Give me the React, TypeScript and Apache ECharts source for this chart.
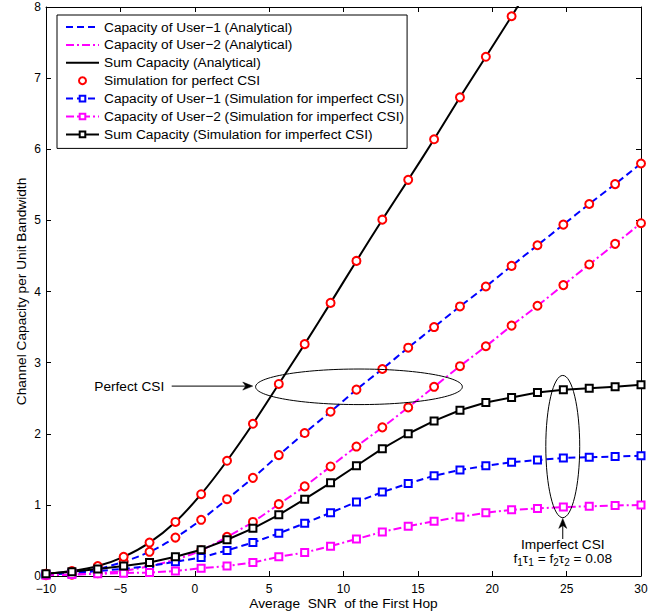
import React, { useEffect, useRef } from 'react';
import * as echarts from 'echarts';

// Average SNR of the first hop (dB)
const snr = [-10, -8.26, -6.52, -4.78, -3.04, -1.3, 0.43, 2.17, 3.91, 5.65, 7.39, 9.13, 10.87, 12.61, 14.35, 16.09, 17.83, 19.57, 21.3, 23.04, 24.78, 26.52, 28.26, 30];

// Perfect CSI (analytical curves, also where the simulation circles sit)
const user1Perfect = [0.02, 0.05, 0.1, 0.2, 0.34, 0.54, 0.79, 1.08, 1.38, 1.7, 2.01, 2.31, 2.62, 2.91, 3.21, 3.5, 3.79, 4.07, 4.36, 4.65, 4.94, 5.23, 5.51, 5.8];
const user2Perfect = [0.01, 0.02, 0.04, 0.07, 0.14, 0.23, 0.36, 0.55, 0.76, 1.01, 1.26, 1.54, 1.82, 2.09, 2.37, 2.66, 2.95, 3.23, 3.52, 3.8, 4.09, 4.38, 4.67, 4.96];
const sumPerfect = [0.03, 0.07, 0.14, 0.27, 0.47, 0.76, 1.15, 1.62, 2.14, 2.7, 3.26, 3.84, 4.43, 5.01, 5.57, 6.14, 6.73, 7.3, 7.87, 8.45, 9.03, 9.61, 10.18, 10.76];

// Imperfect CSI (simulation)
const user1Imperfect = [0.02, 0.04, 0.07, 0.1, 0.14, 0.2, 0.26, 0.36, 0.47, 0.6, 0.74, 0.89, 1.04, 1.18, 1.3, 1.41, 1.49, 1.55, 1.6, 1.63, 1.66, 1.67, 1.68, 1.69];
const user2Imperfect = [0.01, 0.02, 0.03, 0.04, 0.05, 0.07, 0.11, 0.14, 0.19, 0.27, 0.33, 0.42, 0.52, 0.62, 0.7, 0.77, 0.83, 0.89, 0.93, 0.95, 0.97, 0.98, 0.99, 1.0];
const sumImperfect = [0.03, 0.06, 0.1, 0.14, 0.19, 0.27, 0.37, 0.51, 0.67, 0.86, 1.08, 1.31, 1.55, 1.79, 2.0, 2.18, 2.33, 2.44, 2.51, 2.58, 2.62, 2.64, 2.66, 2.69];

const seriesNames = [
  'Capacity of User\u22121 (Analytical)',
  'Capacity of User\u22122 (Analytical)',
  'Sum Capacity (Analytical)',
  'Simulation for perfect CSI',
  'Capacity of User\u22121 (Simulation for imperfect CSI)',
  'Capacity of User\u22122 (Simulation for imperfect CSI)',
  'Sum Capacity (Simulation for imperfect CSI)',
];

const xLabel = 'Average  SNR  of the First Hop';
const yLabel = 'Channel Capacity per Unit Bandwidth';

// annotation anchors in data units
const perfectEllipse = { cx: 11.04, cy: 2.66, rx: 6.95, ry: 0.25 };
const perfectArrow = { x0: -1.55, x1: 3.9, y: 2.67 };
const perfectText = { x: -2.05, y: 2.67, text: 'Perfect CSI' };
const imperfectEllipse = { cx: 24.74, cy: 1.82, rx: 1.14, ry: 1.0 };
const imperfectArrow = { x: 24.74, y0: 0.52, y1: 0.81 };
const imperfectText = { x: 24.74, y1: 0.44, y2: 0.25, line1: 'Imperfect CSI', line2: 'f{s|1}\u03c4{s|1} = f{s|2}\u03c4{s|2} = 0.08' };

const FONT = '"Liberation Sans", Arial, Helvetica, sans-serif';
const TEXT_SIZE = 13.7;
const BLUE = '#0000ff';
const MAGENTA = '#ff00ff';
const BLACK = '#000000';
const RED = '#ff0000';

const pairs = (ys: number[]) => snr.map((x, i) => [x, ys[i]]);

export default function App() {
  const ref = useRef<HTMLDivElement>(null);
  useEffect(() => {
    const chart = echarts.init(ref.current!, null, { renderer: 'svg' });
    const minus = (v: number) => String(v).replace('-', '\u2212');
    const axisLine = { show: true, onZero: false, lineStyle: { color: BLACK, width: 1 } };
    const tick = { show: true, inside: true, length: 5, lineStyle: { color: BLACK, width: 1 } };
    const label = { color: BLACK, fontSize: 12, fontFamily: FONT, lineHeight: 10 };
    const dashed = [7, 4];
    const dashDot = [8, 3, 2, 3];

    chart.setOption({
      animation: false,
      backgroundColor: '#ffffff',
      grid: { left: 46, right: 27, top: 7, bottom: 37, containLabel: false, outerBoundsMode: 'none' },
      legend: {
        orient: 'vertical',
        left: 57,
        top: 15,
        padding: [5, 3, 7, 8],
        itemWidth: 33,
        itemHeight: 7,
        itemGap: 3.9,
        borderColor: BLACK,
        borderWidth: 1,
        backgroundColor: '#ffffff',
        textStyle: { color: BLACK, fontSize: TEXT_SIZE, fontFamily: FONT },
        data: seriesNames.map((name, i) => (i < 3 ? { name, itemStyle: { opacity: 0 } } : { name })),
        selectedMode: false,
      },
      xAxis: [
        {
          type: 'value', min: -10, max: 30, interval: 5, position: 'bottom',
          axisLine, axisTick: tick, splitLine: { show: false },
          axisLabel: { ...label, margin: 8, formatter: minus },
          name: xLabel, nameLocation: 'middle', nameGap: 20, nameMoveOverlap: false,
          nameTextStyle: { color: BLACK, fontSize: TEXT_SIZE, fontFamily: FONT },
        },
        {
          type: 'value', min: -10, max: 30, interval: 5, position: 'top',
          axisLine, axisTick: tick, splitLine: { show: false }, axisLabel: { show: false },
        },
      ],
      yAxis: [
        {
          type: 'value', min: 0, max: 8, interval: 1, position: 'left',
          axisLine, axisTick: tick, splitLine: { show: false },
          axisLabel: { ...label, margin: 5, formatter: minus },
          name: yLabel, nameLocation: 'middle', nameGap: 18, nameRotate: 90, nameMoveOverlap: false,
          nameTextStyle: { color: BLACK, fontSize: TEXT_SIZE, fontFamily: FONT },
        },
        {
          type: 'value', min: 0, max: 8, interval: 1, position: 'right',
          axisLine, axisTick: tick, splitLine: { show: false }, axisLabel: { show: false },
        },
      ],
      series: [
        {
          name: seriesNames[0], type: 'line', data: pairs(user1Perfect), smooth: 0.3,
          symbol: 'none', lineStyle: { color: BLUE, width: 2, type: dashed }, itemStyle: { color: BLUE }, z: 2,
        },
        {
          name: seriesNames[1], type: 'line', data: pairs(user2Perfect), smooth: 0.3,
          symbol: 'none', lineStyle: { color: MAGENTA, width: 2, type: dashDot }, itemStyle: { color: MAGENTA }, z: 2,
        },
        {
          name: seriesNames[2], type: 'line', data: pairs(sumPerfect), smooth: 0.3,
          symbol: 'none', lineStyle: { color: BLACK, width: 2, type: 'solid' }, itemStyle: { color: BLACK }, z: 2,
        },
        {
          name: seriesNames[3], type: 'scatter',
          data: [...pairs(user1Perfect), ...pairs(user2Perfect), ...pairs(sumPerfect)],
          symbol: 'emptyCircle', symbolSize: 8,
          itemStyle: { color: RED, borderColor: RED, borderWidth: 2, opacity: 1 }, z: 3,
        },
        {
          name: seriesNames[4], type: 'line', data: pairs(user1Imperfect),
          symbol: 'emptyRect', symbolSize: 7, showAllSymbol: true,
          lineStyle: { color: BLUE, width: 2, type: dashed }, itemStyle: { color: BLUE, borderColor: BLUE, borderWidth: 1.5 }, z: 4,
        },
        {
          name: seriesNames[5], type: 'line', data: pairs(user2Imperfect),
          symbol: 'emptyRect', symbolSize: 7, showAllSymbol: true,
          lineStyle: { color: MAGENTA, width: 2, type: dashDot }, itemStyle: { color: MAGENTA, borderColor: MAGENTA, borderWidth: 1.5 }, z: 4,
        },
        {
          name: seriesNames[6], type: 'line', data: pairs(sumImperfect),
          symbol: 'emptyRect', symbolSize: 7, showAllSymbol: true,
          lineStyle: { color: BLACK, width: 2, type: 'solid' }, itemStyle: { color: BLACK, borderColor: BLACK, borderWidth: 1.5 }, z: 4,
        },
      ],
    });

    const px = (x: number, y: number) => chart.convertToPixel({ seriesIndex: 0 }, [x, y]) as number[];

    const pe0 = px(perfectEllipse.cx, perfectEllipse.cy);
    const pe1 = px(perfectEllipse.cx + perfectEllipse.rx, perfectEllipse.cy + perfectEllipse.ry);
    const ie0 = px(imperfectEllipse.cx, imperfectEllipse.cy);
    const ie1 = px(imperfectEllipse.cx + imperfectEllipse.rx, imperfectEllipse.cy + imperfectEllipse.ry);
    const pa0 = px(perfectArrow.x0, perfectArrow.y);
    const pa1 = px(perfectArrow.x1, perfectArrow.y);
    const pt = px(perfectText.x, perfectText.y);
    const ia0 = px(imperfectArrow.x, imperfectArrow.y0);
    const ia1 = px(imperfectArrow.x, imperfectArrow.y1);
    const it1 = px(imperfectText.x, imperfectText.y1);
    const it2 = px(imperfectText.x, imperfectText.y2);

    const stroke = { stroke: BLACK, lineWidth: 1, fill: 'none' };
    chart.setOption({
      graphic: [
        { type: 'ellipse', z: 10, silent: true, shape: { cx: pe0[0], cy: pe0[1], rx: pe1[0] - pe0[0], ry: pe0[1] - pe1[1] }, style: stroke },
        { type: 'ellipse', z: 10, silent: true, shape: { cx: ie0[0], cy: ie0[1], rx: ie1[0] - ie0[0], ry: ie0[1] - ie1[1] }, style: stroke },
        { type: 'line', z: 10, silent: true, shape: { x1: pa0[0], y1: pa0[1], x2: pa1[0] - 6, y2: pa1[1] }, style: { stroke: BLACK, lineWidth: 1 } },
        {
          type: 'polygon', z: 10, silent: true,
          shape: { points: [[pa1[0], pa1[1]], [pa1[0] - 10, pa1[1] - 4], [pa1[0] - 7, pa1[1]], [pa1[0] - 10, pa1[1] + 4]] },
          style: { fill: BLACK, stroke: BLACK, lineWidth: 0.5 },
        },
        { type: 'line', z: 10, silent: true, shape: { x1: ia0[0], y1: ia0[1], x2: ia1[0], y2: ia1[1] + 6 }, style: { stroke: BLACK, lineWidth: 1 } },
        {
          type: 'polygon', z: 10, silent: true,
          shape: { points: [[ia1[0], ia1[1]], [ia1[0] - 4, ia1[1] + 10], [ia1[0], ia1[1] + 7], [ia1[0] + 4, ia1[1] + 10]] },
          style: { fill: BLACK, stroke: BLACK, lineWidth: 0.5 },
        },
        {
          type: 'text', z: 10, silent: true, x: pt[0], y: pt[1],
          style: { text: perfectText.text, fill: BLACK, fontSize: TEXT_SIZE, fontFamily: FONT, align: 'right', verticalAlign: 'middle' },
        },
        {
          type: 'text', z: 10, silent: true, x: it1[0], y: it1[1],
          style: { text: imperfectText.line1, fill: BLACK, fontSize: TEXT_SIZE, fontFamily: FONT, align: 'center', verticalAlign: 'middle' },
        },
        {
          type: 'text', z: 10, silent: true, x: it2[0], y: it2[1],
          style: {
            text: imperfectText.line2, fill: BLACK, fontSize: TEXT_SIZE, fontFamily: FONT, align: 'center', verticalAlign: 'middle',
            rich: { s: { fontSize: 10, fontFamily: FONT, fill: BLACK, padding: [9, 0, 0, 0] } },
          },
        },
      ],
    });

    return () => chart.dispose();
  }, []);
  return <div ref={ref} style={{ position: 'absolute', left: 0, top: 0, width: 668, height: 613 }} />;
}
